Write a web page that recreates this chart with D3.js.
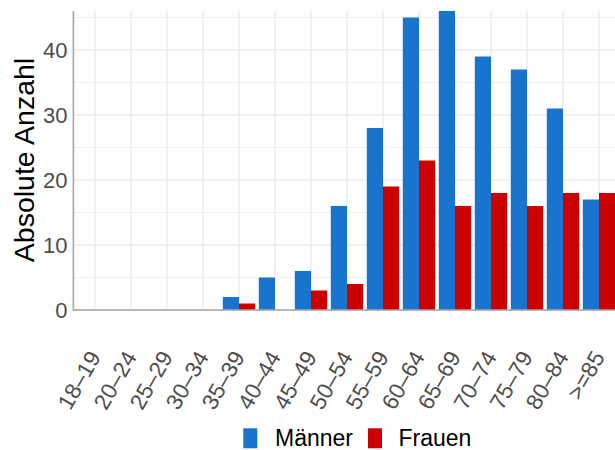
<!DOCTYPE html>
<html>
<head>
<meta charset="utf-8">
<script src="https://cdn.jsdelivr.net/npm/d3@7"></script>
<style>
  html, body { margin: 0; padding: 0; background: #fff; }
  svg { display: block; font-family: "Liberation Sans", Arial, sans-serif; }
</style>
</head>
<body>
<svg id="chart" width="615" height="450"></svg>
<script>
const categories = ["18–19","20–24","25–29","30–34","35–39","40–44","45–49","50–54","55–59","60–64","65–69","70–74","75–79","80–84",">=85"];
const series = ["Männer", "Frauen"];
const maenner = [0,0,0,0,2,5,6,16,28,45,46,39,37,31,17];
const frauen  = [0,0,0,0,1,0,3,4,19,23,16,18,16,18,18];
const yTicks = [0,10,20,30,40];
const yMinor = [5,15,25,35,45];
const colors = ["#1874CD", "#CD0000"];

const svg = d3.select("#chart");
const W = 615, H = 450;
const panel = {left: 73.4, top: 11, bottom: 310};

const x = d3.scalePoint().domain(categories).range([95, 599]);
const step = x.step();
const xRight = 599 + 0.6 * step;
const y = d3.scaleLinear().domain([0, 46]).range([panel.bottom, panel.top]);
const sub = d3.scaleBand().domain(series).range([-0.45 * step, 0.45 * step]).padding(0);

// grid
const grid = svg.append("g");
grid.selectAll("line.minor").data(yMinor).join("line")
  .attr("x1", panel.left).attr("x2", xRight)
  .attr("y1", d => y(d)).attr("y2", d => y(d))
  .attr("stroke", "#ebebeb").attr("stroke-width", 0.8);
grid.selectAll("line.major").data(yTicks).join("line")
  .attr("x1", panel.left).attr("x2", xRight)
  .attr("y1", d => y(d)).attr("y2", d => y(d))
  .attr("stroke", "#ebebeb").attr("stroke-width", 1.4);
grid.selectAll("line.vx").data(categories).join("line")
  .attr("x1", d => x(d)).attr("x2", d => x(d))
  .attr("y1", panel.top).attr("y2", panel.bottom)
  .attr("stroke", "#ebebeb").attr("stroke-width", 1.4);

// bars
const data = categories.map((c, i) => ({cat: c, values: [maenner[i], frauen[i]]}));
const gBars = svg.append("g");
data.forEach(d => {
  series.forEach((s, j) => {
    const v = d.values[j];
    gBars.append("rect")
      .attr("x", x(d.cat) + sub(s))
      .attr("width", sub.bandwidth())
      .attr("y", y(v))
      .attr("height", y(0) - y(v))
      .attr("fill", colors[j]);
  });
});

// axis lines
svg.append("line").attr("x1", panel.left).attr("x2", panel.left)
  .attr("y1", panel.top).attr("y2", panel.bottom + 0.8)
  .attr("stroke", "#a6a6a6").attr("stroke-width", 1.6);
svg.append("line").attr("x1", panel.left).attr("x2", W)
  .attr("y1", panel.bottom).attr("y2", panel.bottom)
  .attr("stroke", "#a6a6a6").attr("stroke-width", 1.6);

// y tick labels
svg.append("g").selectAll("text").data(yTicks).join("text")
  .attr("x", 67.5).attr("y", d => y(d)).attr("dy", "0.36em")
  .attr("text-anchor", "end").attr("fill", "#4d4d4d")
  .attr("font-size", 22).text(d => d);

// x tick labels
svg.append("g").selectAll("text").data(categories).join("text")
  .attr("transform", d => `translate(${x(d) + 6.5},${357}) rotate(-60)`)
  .attr("text-anchor", "end")
  .attr("fill", "#4d4d4d").attr("font-size", 22.5).text(d => d);

// y title
svg.append("text")
  .attr("transform", `translate(33.5,${(57 + 263) / 2}) rotate(-90)`)
  .attr("text-anchor", "middle").attr("fill", "#000")
  .attr("font-size", 28.5).text("Absolute Anzahl");

// legend
const legendItems = [
  {label: series[0], color: colors[0], kx: 243.3, tx: 275},
  {label: series[1], color: colors[1], kx: 368, tx: 398.5}
];
const lg = svg.append("g");
legendItems.forEach(it => {
  lg.append("rect").attr("x", it.kx).attr("y", 428.3).attr("width", 14).attr("height", 20).attr("fill", it.color);
  lg.append("text").attr("x", it.tx).attr("y", 446).attr("fill", "#000")
    .attr("font-size", 23).text(it.label);
});
</script>
</body>
</html>
